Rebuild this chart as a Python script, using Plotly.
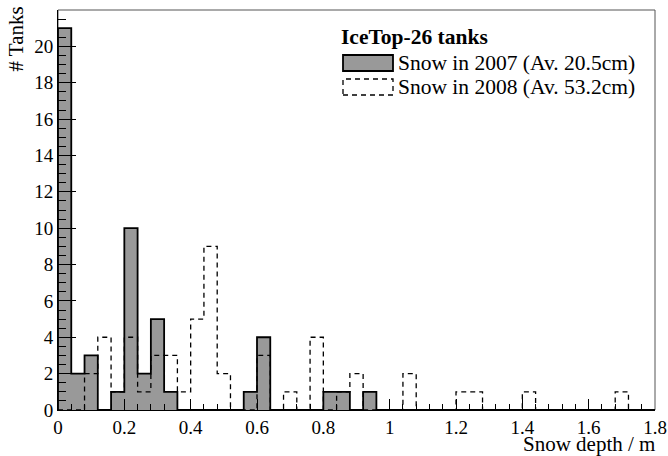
import plotly.graph_objects as go

# ---- data ----
BIN_EDGES = [round(0.04 * i, 2) for i in range(46)]  # 45 bins of 0.04 m from 0 to 1.8 m
SNOW_2007 = [21, 2, 3, 0, 1, 10, 2, 5, 1, 0,
             0, 0, 0, 0, 1, 4, 0, 0, 0, 0,
             1, 1, 0, 1, 0, 0, 0, 0, 0, 0,
             0, 0, 0, 0, 0, 0, 0, 0, 0, 0,
             0, 0, 0, 0, 0]
SNOW_2008 = [0, 0, 2, 4, 1, 4, 1, 3, 3, 1,
             5, 9, 2, 0, 0, 3, 0, 1, 0, 4,
             0, 1, 2, 0, 0, 0, 2, 0, 0, 0,
             1, 1, 0, 0, 0, 1, 0, 0, 0, 0,
             0, 0, 1, 0, 0]
X_TICKS = [0, 0.2, 0.4, 0.6, 0.8, 1.0, 1.2, 1.4, 1.6, 1.8]
Y_TICKS = [0, 2, 4, 6, 8, 10, 12, 14, 16, 18, 20, 22]
LEGEND_TITLE = "IceTop-26 tanks"
LABEL_2007 = "Snow in 2007 (Av. 20.5cm)"
LABEL_2008 = "Snow in 2008 (Av. 53.2cm)"
X_TITLE = "Snow depth / m"
Y_TITLE = "# Tanks"

# ---- layout geometry ----
W, H = 668, 456
L, R, T, B = 58, 13, 10, 46
PW, PH = W - L - R, H - T - B
FONT = "Liberation Serif, Times New Roman, serif"
GRAY = "#999999"


def px(x):
    return (x - L) / PW


def py(y):
    return (H - B - y) / PH


def step(edges, counts):
    xs = [edges[0]] + list(edges)
    ys = [0] + list(counts) + [0]
    return xs, ys


fig = go.Figure()
x7, y7 = step(BIN_EDGES, SNOW_2007)
fig.add_trace(go.Scatter(x=x7, y=y7, mode="lines", line_shape="hv",
                         fill="tozeroy", fillcolor=GRAY,
                         line=dict(color="black", width=1.8),
                         showlegend=False, hoverinfo="skip"))
x8, y8 = step(BIN_EDGES, SNOW_2008)
fig.add_trace(go.Scatter(x=x8, y=y8, mode="lines", line_shape="hv",
                         line=dict(color="black", width=1.3, dash="5px,4px"),
                         showlegend=False, hoverinfo="skip"))

shapes = [
    # frame
    dict(type="rect", xref="paper", yref="paper", x0=0, x1=1, y0=0, y1=1,
         line=dict(color="#555555", width=1), layer="below"),
    # legend symbols
    dict(type="rect", xref="paper", yref="paper",
         x0=px(343), x1=px(393), y0=py(71), y1=py(55),
         fillcolor=GRAY, line=dict(color="black", width=1.8)),
    dict(type="rect", xref="paper", yref="paper",
         x0=px(343), x1=px(393), y0=py(95), y1=py(79),
         fillcolor="rgba(0,0,0,0)", line=dict(color="black", width=1.3, dash="5px,4px")),
]

ann_font = dict(family=FONT, size=21.5, color="black")
annotations = [
    dict(text="<b>" + LEGEND_TITLE + "</b>", x=px(340), y=py(37), xref="paper", yref="paper",
         xanchor="left", yanchor="middle", showarrow=False, font=ann_font, borderpad=0),
    dict(text=LABEL_2007, x=px(397), y=py(63), xref="paper", yref="paper",
         xanchor="left", yanchor="middle", showarrow=False, font=ann_font, borderpad=0),
    dict(text=LABEL_2008, x=px(397), y=py(87), xref="paper", yref="paper",
         xanchor="left", yanchor="middle", showarrow=False, font=ann_font, borderpad=0),
    dict(text=X_TITLE, x=px(656), y=py(444), xref="paper", yref="paper",
         xanchor="right", yanchor="middle", showarrow=False,
         font=dict(family=FONT, size=21, color="black"), borderpad=0),
    dict(text=Y_TITLE, x=px(15), y=py(6), xref="paper", yref="paper", textangle=-90,
         xanchor="center", yanchor="top", showarrow=False,
         font=dict(family=FONT, size=21, color="black"), borderpad=0),
]

tick_font = dict(family=FONT, size=19, color="black")
fig.update_layout(
    width=W, height=H,
    margin=dict(l=L, r=R, t=T, b=B, autoexpand=False),
    paper_bgcolor="white", plot_bgcolor="white",
    showlegend=False,
    hovermode=False,
    shapes=shapes,
    annotations=annotations,
    xaxis=dict(range=[0, 1.8], tickvals=X_TICKS, ticks="inside", ticklen=11, tickwidth=1,
               tickcolor="black", showline=True, linecolor="black", linewidth=1,
               showgrid=False, zeroline=False, tickfont=tick_font, automargin=False,
               minor=dict(dtick=0.04, ticks="inside", ticklen=6, tickcolor="black", showgrid=False)),
    yaxis=dict(range=[0, 22], tickvals=Y_TICKS, ticks="inside", ticklen=18, tickwidth=1,
               tickcolor="black", showline=True, linecolor="black", linewidth=1,
               showgrid=False, zeroline=False, tickfont=tick_font, automargin=False,
               minor=dict(dtick=0.5, ticks="inside", ticklen=8, tickcolor="black", showgrid=False)),
)

fig.write_html("out.html", config={"displayModeBar": False, "staticPlot": True},
               post_script="document.body.style.margin='0px';document.body.style.overflow='hidden';")
